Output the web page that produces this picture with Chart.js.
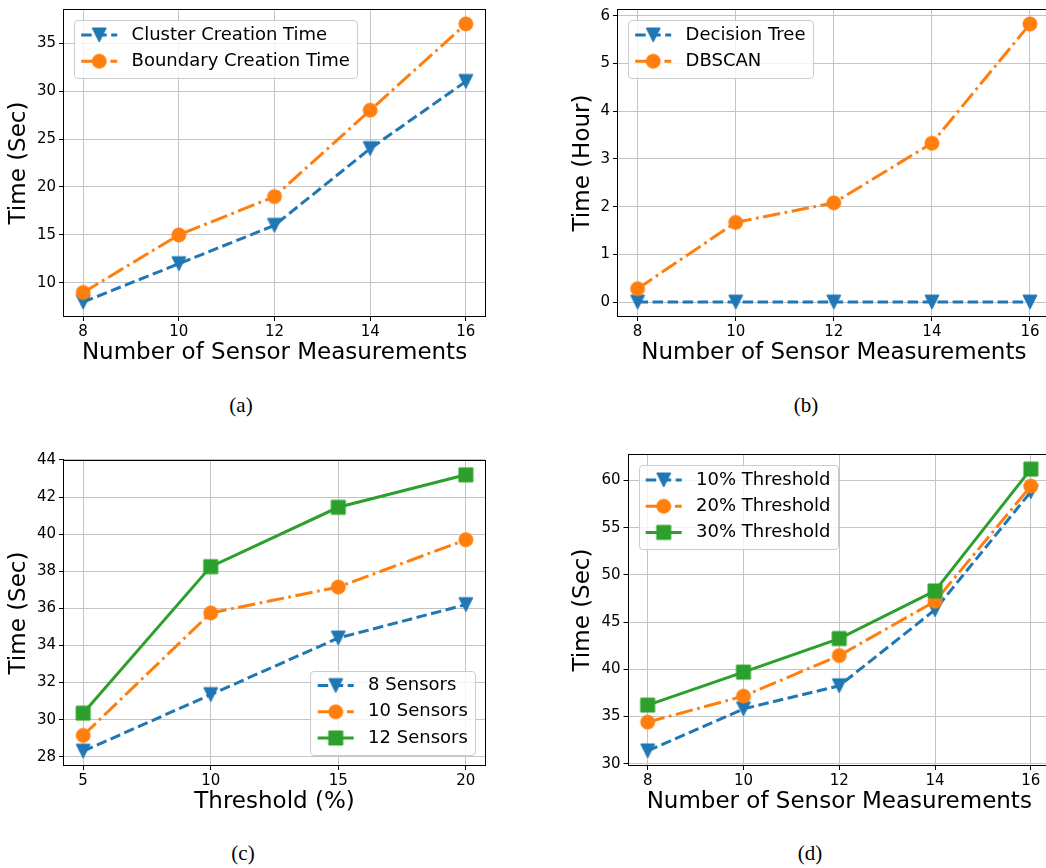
<!DOCTYPE html>
<html>
<head>
<meta charset="utf-8">
<script src="https://cdn.jsdelivr.net/npm/chart.js@4.4.1/dist/chart.umd.min.js"></script>
<style>
  html, body { margin: 0; padding: 0; width: 1046px; height: 868px; overflow: hidden; background: #fff; }
  canvas { position: absolute; }
  .cap { position: absolute; font-family: 'Liberation Serif', serif; font-size: 21px; color: #000; transform: translate(-50%, -50%); }
</style>
</head>
<body>
<canvas id="chartA" width="520" height="390" style="left:0px;top:0px"></canvas>
<canvas id="chartB" width="540" height="390" style="left:520px;top:0px"></canvas>
<canvas id="chartC" width="520" height="390" style="left:0px;top:440px"></canvas>
<canvas id="chartD" width="540" height="390" style="left:520px;top:440px"></canvas>
<div class="cap" style="left:241px;top:405px">(a)</div>
<div class="cap" style="left:806px;top:405px">(b)</div>
<div class="cap" style="left:243px;top:853px">(c)</div>
<div class="cap" style="left:810px;top:853px">(d)</div>
<script>
// (a) and (b): time vs number of sensor measurements
const sensorCounts = [8, 10, 12, 14, 16];
const clusterTime = [8, 12, 16, 24, 31];
const boundaryTime = [9, 15, 19, 28, 37];
const decisionTreeHours = [0, 0, 0, 0, 0];
const dbscanHours = [0.28, 1.67, 2.08, 3.33, 5.83];

// (c): time vs threshold
const thresholds = [5, 10, 15, 20];
const sensors8 = [28.3, 31.35, 34.4, 36.2];
const sensors10 = [29.15, 35.75, 37.15, 39.7];
const sensors12 = [30.35, 38.25, 41.45, 43.2];

// (d): time vs number of sensor measurements per threshold
const thr10 = [31.35, 35.8, 38.25, 46.3, 58.8];
const thr20 = [34.4, 37.15, 41.45, 47.2, 59.4];
const thr30 = [36.2, 39.7, 43.25, 48.3, 61.2];

// tick labels
const yTicksA = [10, 15, 20, 25, 30, 35];
const yTicksB = [0, 1, 2, 3, 4, 5, 6];
const yTicksC = [28, 30, 32, 34, 36, 38, 40, 42, 44];
const yTicksD = [30, 35, 40, 45, 50, 55, 60];

const BLUE = '#1f77b4', ORANGE = '#ff7f0e', GREEN = '#2ca02c';
const DASHED = [10.5, 4.5];
const DASHDOT = [17.5, 4.5, 2.75, 4.5];
const FONT = 'DejaVu Sans';
const TITLE_SIZE = 23;

Chart.defaults.font.family = FONT;

function marker(shape, color) {
  const c = document.createElement('canvas');
  c.width = c.height = 18;
  const g = c.getContext('2d');
  g.fillStyle = color;
  g.strokeStyle = color;
  g.lineWidth = 1;
  g.beginPath();
  if (shape === 'circle') g.arc(9, 9, 7, 0, Math.PI * 2);
  else if (shape === 'square') g.rect(2, 2, 14, 14);
  else { g.moveTo(2, 2); g.lineTo(16, 2); g.lineTo(9, 16); g.closePath(); }
  g.fill();
  g.stroke();
  return c;
}

function series(label, xs, ys, color, dash, shape, order) {
  return {
    label: label,
    data: xs.map((x, i) => ({ x: x, y: ys[i] })),
    borderColor: color,
    backgroundColor: color,
    borderWidth: 3,
    borderDash: dash,
    pointStyle: marker(shape, color),
    pointRadius: 7,
    pointHoverRadius: 7,
    tension: 0,
    fill: false,
    order: order
  };
}

function padded(arrays) {
  const all = [].concat(...arrays);
  const lo = Math.min(...all), hi = Math.max(...all);
  const m = (hi - lo) * 0.05;
  return [lo - m, hi + m];
}

const framePlugin = {
  id: 'frame',
  afterDatasetsDraw(chart) {
    const { ctx, chartArea: a } = chart;
    ctx.save();
    ctx.strokeStyle = '#000';
    ctx.lineWidth = 1;
    const l = Math.round(a.left) - 0.5, t = Math.round(a.top) - 0.5;
    const r = Math.round(a.right) + 0.5, b = Math.round(a.bottom) + 0.5;
    ctx.strokeRect(l, t, r - l, b - t);
    ctx.restore();
  }
};

const legendPlugin = {
  id: 'mplLegend',
  afterDraw(chart, args, opts) {
    const { ctx, chartArea: a } = chart;
    const sets = chart.data.datasets;
    ctx.save();
    ctx.font = '18px "' + FONT + '"';
    const tw = Math.max(...sets.map(d => ctx.measureText(d.label).width));
    const w = 7.2 + 36 + 14.4 + tw + 7.2;
    const h = 32 + (sets.length - 1) * 26.2;
    const low = opts.loc === 'lower right';
    const left = low ? a.right - 10 - w : a.left + 10;
    const top = low ? a.bottom - 10 - h : a.top + 10;
    ctx.beginPath();
    ctx.roundRect(Math.round(left) + 0.5, Math.round(top) + 0.5, Math.round(w), Math.round(h), 3.5);
    ctx.fillStyle = 'rgba(255,255,255,0.8)';
    ctx.fill();
    ctx.strokeStyle = '#cccccc';
    ctx.lineWidth = 1;
    ctx.stroke();
    sets.forEach((d, i) => {
      const y = top + 15 + i * 26.2;
      const x0 = left + 7.2;
      ctx.setLineDash(d.borderDash);
      ctx.lineWidth = d.borderWidth;
      ctx.strokeStyle = d.borderColor;
      ctx.beginPath();
      ctx.moveTo(x0, y);
      ctx.lineTo(x0 + 36, y);
      ctx.stroke();
      ctx.setLineDash([]);
      const m = d.pointStyle;
      ctx.drawImage(m, x0 + 18 - m.width / 2, y - m.height / 2);
      ctx.fillStyle = '#000';
      ctx.textBaseline = 'middle';
      ctx.textAlign = 'left';
      ctx.fillText(d.label, x0 + 50.4, y);
    });
    ctx.restore();
  }
};

function panel(id, p) {
  const canvas = document.getElementById(id);
  const W = canvas.width, H = canvas.height;
  const cx = parseFloat(canvas.style.left), cy = parseFloat(canvas.style.top);
  const half = TITLE_SIZE * 1.2 / 2;
  const padLeft = p.yTitleX - cx - half;
  const yWidth = p.area.l - cx - padLeft;
  const xHeight = cy + H - p.area.b;
  const xTitlePad = (cy + H) - (p.area.b + 37) - half;
  const grid = { color: '#c4c4c4', lineWidth: 1, tickColor: '#000', tickWidth: 1, tickLength: 5, drawTicks: true };
  const tickFont = { family: FONT, size: 15 };
  const titleFont = { family: FONT, size: TITLE_SIZE };

  return new Chart(canvas.getContext('2d'), {
    type: 'line',
    data: { datasets: p.datasets },
    options: {
      responsive: false,
      animation: false,
      events: [],
      layout: { padding: { left: padLeft, top: p.area.t - cy, right: cx + W - p.area.r, bottom: 0 } },
      plugins: {
        legend: { display: false },
        tooltip: { enabled: false },
        mplLegend: { loc: p.legendLoc }
      },
      scales: {
        x: {
          type: 'linear',
          min: p.xRange[0],
          max: p.xRange[1],
          afterBuildTicks: s => { s.ticks = p.xTicks.map(v => ({ value: v })); },
          afterFit: s => { s.height = xHeight; s.paddingLeft = 0; s.paddingRight = 0; },
          grid: grid,
          border: { display: false },
          ticks: { color: '#000', font: tickFont, padding: 2, autoSkip: false, maxRotation: 0, callback: v => String(v) },
          title: { display: true, text: p.xTitle, color: '#000', font: titleFont, padding: { top: 0, bottom: xTitlePad } }
        },
        y: {
          type: 'linear',
          min: p.yRange[0],
          max: p.yRange[1],
          afterBuildTicks: s => { s.ticks = p.yTicks.map(v => ({ value: v })); },
          afterFit: s => { s.width = yWidth; s.paddingTop = 0; s.paddingBottom = 0; },
          grid: grid,
          border: { display: false },
          ticks: { color: '#000', font: tickFont, padding: 3, autoSkip: false, callback: v => String(v) },
          title: { display: true, text: p.yTitle, color: '#000', font: titleFont, padding: { top: 0, bottom: 0 } }
        }
      }
    },
    plugins: [framePlugin, legendPlugin]
  });
}

panel('chartA', {
  area: { l: 64, t: 5, r: 485, b: 316 },
  yTitleX: 19,
  xTitle: 'Number of Sensor Measurements',
  yTitle: 'Time (Sec)',
  xTicks: sensorCounts,
  yTicks: yTicksA,
  xRange: padded([sensorCounts]),
  yRange: padded([clusterTime, boundaryTime]),
  legendLoc: 'upper left',
  datasets: [
    series('Cluster Creation Time', sensorCounts, clusterTime, BLUE, DASHED, 'triangle', 2),
    series('Boundary Creation Time', sensorCounts, boundaryTime, ORANGE, DASHDOT, 'circle', 1)
  ]
});

panel('chartB', {
  area: { l: 618, t: 5.7, r: 1049.6, b: 316 },
  yTitleX: 583,
  xTitle: 'Number of Sensor Measurements',
  yTitle: 'Time (Hour)',
  xTicks: sensorCounts,
  yTicks: yTicksB,
  xRange: padded([sensorCounts]),
  yRange: padded([decisionTreeHours, dbscanHours]),
  legendLoc: 'upper left',
  datasets: [
    series('Decision Tree', sensorCounts, decisionTreeHours, BLUE, DASHED, 'triangle', 2),
    series('DBSCAN', sensorCounts, dbscanHours, ORANGE, DASHDOT, 'circle', 1)
  ]
});

panel('chartC', {
  area: { l: 64, t: 461, r: 485, b: 765 },
  yTitleX: 19,
  xTitle: 'Threshold (%)',
  yTitle: 'Time (Sec)',
  xTicks: thresholds,
  yTicks: yTicksC,
  xRange: padded([thresholds]),
  yRange: padded([sensors8, sensors10, sensors12]),
  legendLoc: 'lower right',
  datasets: [
    series('8 Sensors', thresholds, sensors8, BLUE, DASHED, 'triangle', 3),
    series('10 Sensors', thresholds, sensors10, ORANGE, DASHDOT, 'circle', 2),
    series('12 Sensors', thresholds, sensors12, GREEN, [], 'square', 1)
  ]
});

panel('chartD', {
  area: { l: 628.5, t: 455, r: 1050, b: 765 },
  yTitleX: 583,
  xTitle: 'Number of Sensor Measurements',
  yTitle: 'Time (Sec)',
  xTicks: sensorCounts,
  yTicks: yTicksD,
  xRange: padded([sensorCounts]),
  yRange: padded([thr10, thr20, thr30]),
  legendLoc: 'upper left',
  datasets: [
    series('10% Threshold', sensorCounts, thr10, BLUE, DASHED, 'triangle', 3),
    series('20% Threshold', sensorCounts, thr20, ORANGE, DASHDOT, 'circle', 2),
    series('30% Threshold', sensorCounts, thr30, GREEN, [], 'square', 1)
  ]
});
</script>
</body>
</html>
